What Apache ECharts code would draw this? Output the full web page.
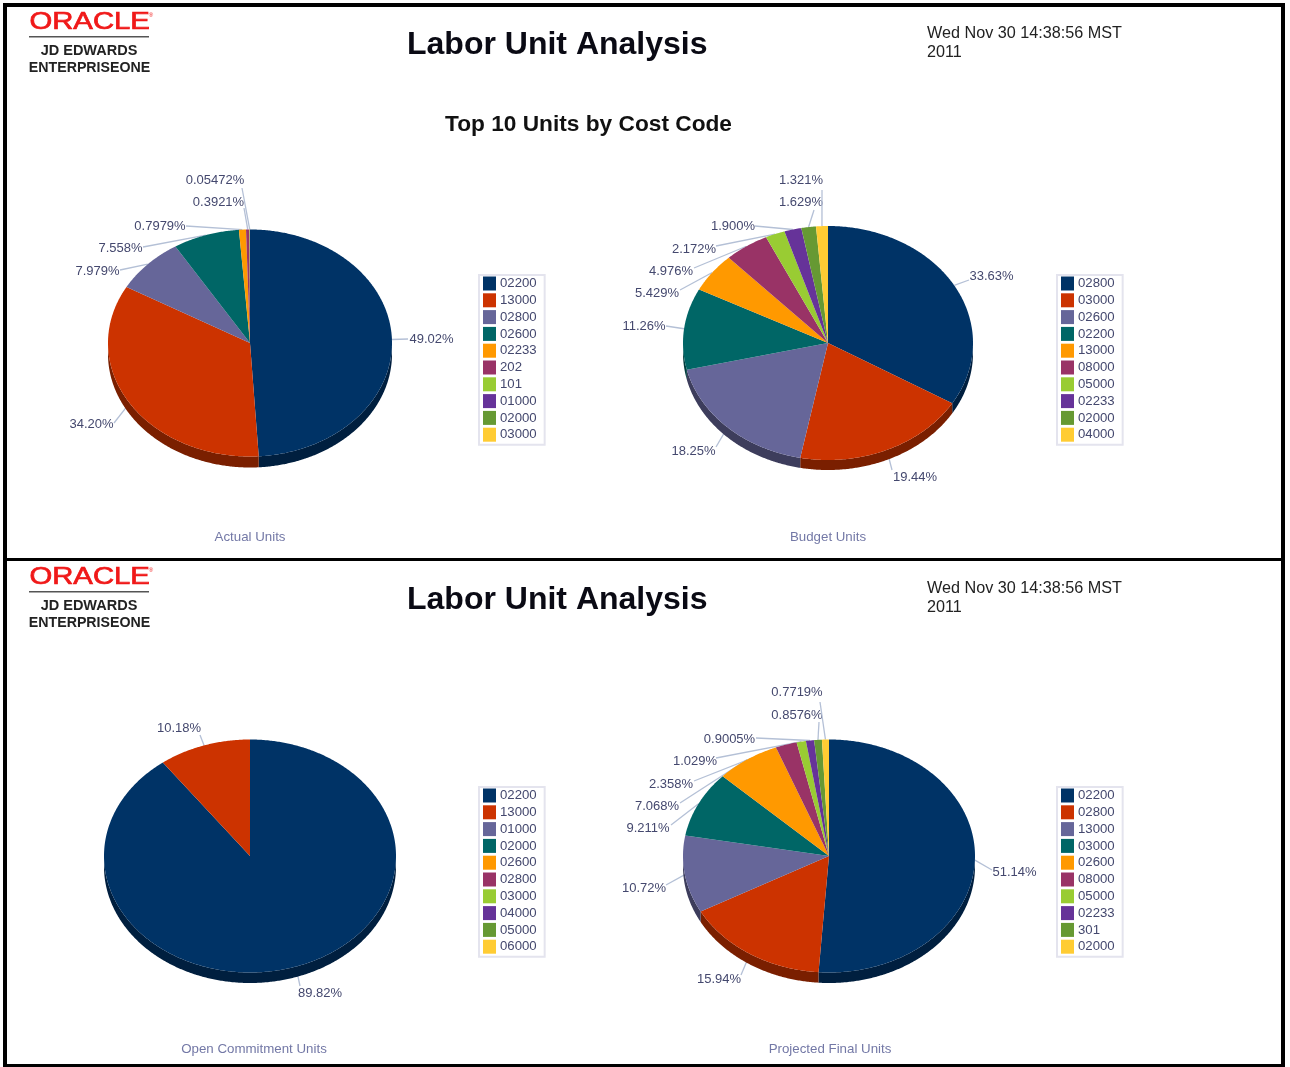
<!DOCTYPE html>
<html><head><meta charset="utf-8">
<script src="https://cdn.jsdelivr.net/npm/echarts@6/dist/echarts.min.js"></script>
<style>html,body{margin:0;padding:0;background:#fff}#c{width:1290px;height:1067px;filter:blur(0.5px)}</style>
</head><body><div id="c"></div>
<script>
// ---- data ----
const actualCodes  = ['02200','13000','02800','02600','02233','202','101','01000','02000','03000'];
const actualValues = [49.02,34.20,7.979,7.558,0.7979,0.3921,0.05472,0,0,0];
const actualLabels = ['49.02%','34.20%','7.979%','7.558%','0.7979%','0.3921%','0.05472%','','',''];

const budgetCodes  = ['02800','03000','02600','02200','13000','08000','05000','02233','02000','04000'];
const budgetValues = [33.63,19.44,18.25,11.26,5.429,4.976,2.172,1.900,1.629,1.321];
const budgetLabels = ['33.63%','19.44%','18.25%','11.26%','5.429%','4.976%','2.172%','1.900%','1.629%','1.321%'];

const openCodes  = ['02200','13000','01000','02000','02600','02800','03000','04000','05000','06000'];
const openValues = [89.82,10.18,0,0,0,0,0,0,0,0];
const openLabels = ['89.82%','10.18%','','','','','','','',''];

const finalCodes  = ['02200','02800','13000','03000','02600','08000','05000','02233','301','02000'];
const finalValues = [51.14,15.94,10.72,9.211,7.068,2.358,1.029,0.9005,0.8576,0.7719];
const finalLabels = ['51.14%','15.94%','10.72%','9.211%','7.068%','2.358%','1.029%','0.9005%','0.8576%','0.7719%'];

const captions = ['Actual Units','Budget Units','Open Commitment Units','Projected Final Units'];

// ---- styles and layout ----
const palette = ['#003366','#CC3300','#666699','#006666','#FF9900','#993366','#99CC33','#663399','#669933','#FFCC33'];
const sides   = ['#001f3f','#7a1f00','#3d3d5c','#003d3d','#995c00','#5c1f3d','#5c7a1f','#3d1f5c','#3d5c1f','#997a1f'];
const pies = [
  {codes:actualCodes,values:actualValues,labels:actualLabels,cx:250,cy:343,rx:142,ry:113.5,depth:11,legend:[479,275],caption:[250,537],
   anchors:[[431.5,339,408,339],[91.5,424,114,423],[97.5,271,120,270],[120.5,248,143,247],[160,226.5,186,226],[218.5,202,244,208],[215,180,242,188]]},
  {codes:budgetCodes,values:budgetValues,labels:budgetLabels,cx:828,cy:343,rx:145,ry:117,depth:10,legend:[1057,275],caption:[828,537],
   anchors:[[991.5,276,969,280],[915,477,892,470],[693.5,451,716,447],[644,326.5,666,326],[657,293.5,680,290],[671,271.5,694,268],[694,249,716,246],[733,226.5,755,226],[801,202,814,210],[801,180,822,190]]},
  {codes:openCodes,values:openValues,labels:openLabels,cx:250,cy:856,rx:146,ry:116.5,depth:10.5,legend:[479,787],caption:[254,1049],
   anchors:[[320,993,300,986],[179,728,200,735]]},
  {codes:finalCodes,values:finalValues,labels:finalLabels,cx:829,cy:856,rx:146,ry:116.5,depth:10.5,legend:[1057,787],caption:[830,1049],
   anchors:[[1014.5,872,992,870],[719,979,741,975],[644,888,666,885],[648,828.5,671,825],[657,806.5,680,803],[671,784,694,781],[695,761.5,716,758],[729.5,739,756,738],[797,715,819,722],[797,692.5,820,702]]}
];
const FONT = '"Liberation Sans", Arial, sans-serif';

function span(pie, s) {
  const total = pie.values.reduce((a,b)=>a+b,0);
  let before = 0;
  for (let i=0;i<s;i++) before += pie.values[i];
  return [before/total*2*Math.PI, (before+pie.values[s])/total*2*Math.PI];
}
function rim(pie, a, dy) { return [pie.cx+pie.rx*Math.sin(a), pie.cy-pie.ry*Math.cos(a)+(dy||0)]; }

function renderWedge(params, api) {
  const pie = pies[api.value(0)], s = api.value(1);
  const [a0,a1] = span(pie,s);
  if (a1-a0 <= 0) return null;
  const step = Math.PI/360, children = [];
  const lo = Math.max(a0,Math.PI/2), hi = Math.min(a1,Math.PI*1.5);
  if (hi > lo) {
    const top=[], bottom=[];
    for (let a=lo;;a+=step){ const t=Math.min(a,hi); top.push(rim(pie,t)); bottom.unshift(rim(pie,t,pie.depth)); if(t>=hi)break; }
    children.push({type:'polygon',shape:{points:top.concat(bottom)},style:{fill:sides[s]},z2:1});
  }
  const pts=[[pie.cx,pie.cy]];
  for (let a=a0;;a+=step){ const t=Math.min(a,a1); pts.push(rim(pie,t)); if(t>=a1)break; }
  children.push({type:'polygon',shape:{points:pts},style:{fill:palette[s]},z2:2});
  return {type:'group',children};
}
function renderLabel(params, api) {
  const pie = pies[api.value(0)], s = api.value(1);
  const an = pie.anchors[s];
  if (!an) return null;
  const [a0,a1] = span(pie,s);
  const e = rim(pie,(a0+a1)/2);
  return {type:'group',children:[
    {type:'polyline',shape:{points:[e,[an[2],an[3]]]},style:{stroke:'#b4c0d6',lineWidth:1.3,fill:null}},
    {type:'text',style:{x:an[0],y:an[1],text:pie.labels[s],fill:'#44486e',font:'13px '+FONT,align:'center',verticalAlign:'middle'}}
  ]};
}

const series = [], legends = [], titles = [];
pies.forEach((pie,p)=>{
  series.push({type:'custom',name:'labels'+p,coordinateSystem:'none',z:1,silent:true,renderItem:renderLabel,
    data:pie.values.map((v,s)=>[p,s,v])});
  pie.codes.forEach((code,s)=>{
    series.push({type:'custom',name:code,coordinateSystem:'none',z:2,silent:true,renderItem:renderWedge,
      itemStyle:{color:palette[s]},data:[[p,s,pie.values[s]]]});
  });
  legends.push({left:pie.legend[0],top:pie.legend[1],orient:'vertical',padding:[1.5,8,3,4],itemWidth:13,itemHeight:14,itemGap:2.8,
    borderColor:'#e4e4ee',borderWidth:2,backgroundColor:'#fff',selectedMode:false,icon:'rect',
    textStyle:{fontFamily:FONT,fontSize:13.2,color:'#44486e',padding:[0,0,0,-1]},
    data:pie.codes.map((c,s)=>({name:c,icon:'rect',itemStyle:{color:palette[s]}}))});
  titles.push({text:captions[p],left:pie.caption[0],top:pie.caption[1]-6.5,textAlign:'center',padding:0,
    textStyle:{fontFamily:FONT,fontSize:13.3,fontWeight:'normal',color:'#7378a6'}});
});
titles.push({text:'Top 10 Units by Cost Code',left:445,top:113,padding:0,textStyle:{fontFamily:FONT,fontSize:22.7,fontWeight:'bold',color:'#111'}});

function header(y) {
  return [
    {type:'text',left:29,top:y+10,style:{text:'ORACLE',fill:'#f01818',stroke:'#f01818',lineWidth:0.7,font:'24px '+FONT},scaleX:1.22},
    {type:'text',style:{x:151,y:y+15,text:'®',fill:'#f01818',font:'6px '+FONT,align:'center',verticalAlign:'middle'}},
    {type:'rect',shape:{x:29,y:y+36,width:120,height:1.5},style:{fill:'#555'}},
    {type:'text',style:{x:89,y:y+51,text:'JD EDWARDS',fill:'#222',font:'bold 14.5px '+FONT,align:'center',verticalAlign:'middle'}},
    {type:'text',style:{x:89.5,y:y+68.5,text:'ENTERPRISEONE',fill:'#222',font:'bold 14.2px '+FONT,align:'center',verticalAlign:'middle'}},
    {type:'text',style:{x:407,y:y+45,text:'Labor Unit Analysis',fill:'#0a0a14',font:'bold 32px '+FONT,verticalAlign:'middle'}},
    {type:'text',style:{x:927,y:y+33.5,text:'Wed Nov 30 14:38:56 MST',fill:'#222',font:'16.2px '+FONT,verticalAlign:'middle'}},
    {type:'text',style:{x:927,y:y+52.5,text:'2011',fill:'#222',font:'16.2px '+FONT,verticalAlign:'middle'}}
  ];
}
const frame = [
  {type:'rect',shape:{x:3,y:3,width:4,height:1064},style:{fill:'#000'}},
  {type:'rect',shape:{x:1281,y:3,width:4,height:1064},style:{fill:'#000'}},
  {type:'rect',shape:{x:3,y:3,width:1282,height:4},style:{fill:'#000'}},
  {type:'rect',shape:{x:3,y:558,width:1282,height:3},style:{fill:'#000'}},
  {type:'rect',shape:{x:3,y:1064,width:1282,height:3},style:{fill:'#000'}}
];

const chart = echarts.init(document.getElementById('c'),null,{renderer:'canvas'});
chart.setOption({
  animation:false,backgroundColor:'#fff',
  title:titles,legend:legends,series,
  graphic:{elements:frame.concat(header(0),header(555))}
});
</script></body></html>
